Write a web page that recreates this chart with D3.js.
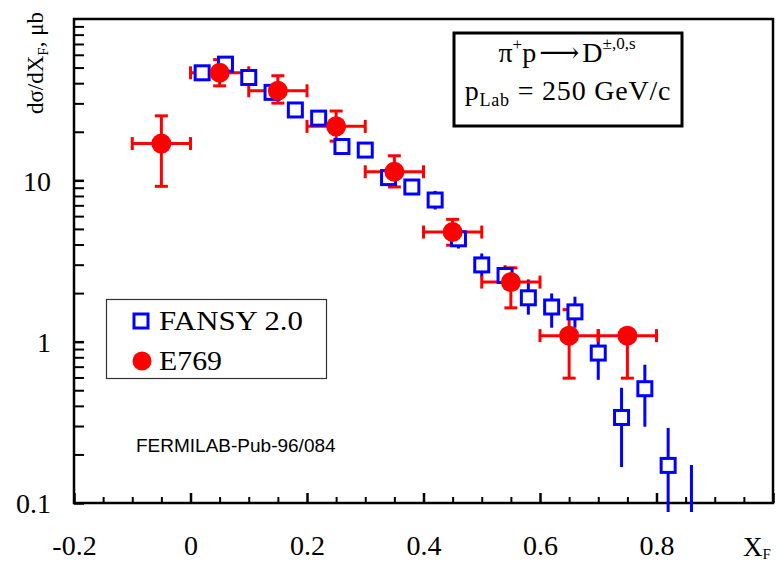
<!DOCTYPE html>
<html>
<head>
<meta charset="utf-8">
<script src="https://cdn.jsdelivr.net/npm/d3@7"></script>
<style>
  html, body { margin: 0; padding: 0; background: #fff; }
  svg { display: block; }
</style>
</head>
<body>
<svg id="chart" width="781" height="561"></svg>
<script>
// ---------------- DATA ----------------
// FANSY 2.0 (blue open squares)
const fansyX  = [0.02, 0.06, 0.10, 0.14, 0.18, 0.22, 0.26, 0.30, 0.34, 0.38, 0.42, 0.46, 0.50, 0.54, 0.58, 0.62, 0.66, 0.70, 0.74, 0.78, 0.82, 0.86];
const fansyY  = [46.4, 52.5, 43.4, 35.1, 27.3, 24.3, 16.2, 15.4, 10.4, 9.09, 7.55, 4.34, 2.99, 2.57, 1.87, 1.64, 1.53, 0.85, 0.339, 0.511, 0.171, 0.07];
const fansyLo = [43.5, 49.0, 40.5, 32.8, 25.5, 22.7, 15.1, 14.4, 9.7, 8.4, 6.6, 3.78, 2.5, 2.12, 1.47, 1.22, 1.22, 0.58, 0.167, 0.297, 0.085, 0.04];
const fansyHi = [49.5, 56.0, 46.5, 37.6, 29.2, 26.0, 17.4, 16.5, 11.2, 9.8, 8.6, 5.04, 3.52, 2.97, 2.43, 1.99, 1.90, 1.14, 0.518, 0.72, 0.292, 0.172];

// E769 (red filled circles)
const e769X    = [-0.05, 0.05, 0.15, 0.25, 0.35, 0.45, 0.55, 0.65, 0.75];
const e769Y    = [16.9, 46.4, 35.9, 21.6, 11.3, 4.78, 2.34, 1.09, 1.09];
const e769Lo   = [9.18, 38.5, 30.1, 17.5, 9.1, 3.96, 1.62, 0.594, 0.594];
const e769Hi   = [25.1, 56.0, 44.5, 26.9, 14.2, 5.73, 2.87, 1.58, 1.15];
const e769XErr = [0.05, 0.05, 0.05, 0.05, 0.05, 0.05, 0.05, 0.05, 0.05];

// Axis ticks
const xTickValues = [-0.2, 0, 0.2, 0.4, 0.6, 0.8];
const xTickLabels = ["-0.2", "0", "0.2", "0.4", "0.6", "0.8"];
const yTickValues = [0.1, 1, 10];
const yTickLabels = ["0.1", "1", "10"];

const legendLabels = ["FANSY 2.0", "E769"];
const noteText = "FERMILAB-Pub-96/084";

// ---------------- LAYOUT ----------------
const SERIF = '"Liberation Serif", "Times New Roman", Times, serif';
const SANS = '"Liberation Sans", Arial, Helvetica, sans-serif';
const svg = d3.select("#chart");
const L = 74, R = 773, T = 19, B = 503;
const x = d3.scaleLinear().domain([-0.2, 1.0]).range([L, R]);
const y = d3.scaleLog().domain([0.1, 100]).range([B, T]);

const BLUE = "#0000ff", RED = "#ff0000";

function serif(sel, size) {
  return sel.attr("font-family", SERIF).style("font-family", SERIF).style("font-size", size + "px").attr("fill", "#000");
}

// clip paths
const defs = svg.append("defs");
defs.append("clipPath").attr("id", "clipPlot")
  .append("rect").attr("x", L).attr("y", T).attr("width", R - L).attr("height", B - T);
defs.append("clipPath").attr("id", "clipErr")
  .append("rect").attr("x", L).attr("y", T).attr("width", R - L).attr("height", B - T + 9);

// ---------------- AXES ----------------
const xMinor = d3.range(-0.15, 1.0, 0.05).filter(v => Math.abs(Math.round(v * 5) - v * 5) > 1e-6);
svg.append("g").attr("transform", `translate(0,${B})`)
  .call(d3.axisBottom(x).tickValues(xMinor).tickSizeInner(-6).tickSizeOuter(0).tickFormat(""))
  .call(g => g.select(".domain").remove())
  .call(g => g.selectAll("line").attr("stroke", "#000").attr("stroke-width", 2));

const xMajorAxis = d3.axisBottom(x)
  .tickValues(xTickValues.concat([1.0]))
  .tickSizeInner(-10).tickSizeOuter(0)
  .tickFormat(d => { const i = xTickValues.indexOf(d); return i >= 0 ? xTickLabels[i] : ""; });
svg.append("g").attr("transform", `translate(0,${B})`)
  .call(xMajorAxis)
  .attr("font-family", SERIF)
  .call(g => g.select(".domain").remove())
  .call(g => g.selectAll("line").attr("stroke", "#000").attr("stroke-width", 2.5))
  .call(g => serif(g.selectAll("text").attr("y", 52).attr("dy", 0), 28));

const yMinor = y.ticks().filter(v => yTickValues.indexOf(v) < 0 && v > 0.1 && v < 100);
svg.append("g").attr("transform", `translate(${L},0)`)
  .call(d3.axisLeft(y).tickValues(yMinor).tickSizeInner(-10).tickSizeOuter(0).tickFormat(""))
  .call(g => g.select(".domain").remove())
  .call(g => g.selectAll("line").attr("stroke", "#000").attr("stroke-width", 2));

svg.append("g").attr("transform", `translate(${L},0)`)
  .call(d3.axisLeft(y).tickValues(yTickValues).tickSizeInner(-10).tickSizeOuter(0)
      .tickFormat(d => yTickLabels[yTickValues.indexOf(d)]))
  .attr("font-family", SERIF)
  .call(g => g.select(".domain").remove())
  .call(g => g.selectAll("line").attr("stroke", "#000").attr("stroke-width", 2.5))
  .call(g => serif(g.selectAll("text").attr("x", -23).attr("dy", "0.35em"), 28));

// frame
svg.append("rect")
  .attr("x", L).attr("y", T).attr("width", R - L).attr("height", B - T)
  .attr("fill", "none").attr("stroke", "#000").attr("stroke-width", 2.5);

// axis titles
const yt = serif(svg.append("text"), 23)
  .attr("transform", `translate(43,63) rotate(-90)`)
  .attr("text-anchor", "middle");
yt.append("tspan").text("dσ/dX");
yt.append("tspan").attr("dy", 5).style("font-size", "15px").text("F");
yt.append("tspan").attr("dy", -5).text(", μb");

const xt = serif(svg.append("text"), 27).attr("x", 743).attr("y", 556);
xt.append("tspan").text("X");
xt.append("tspan").attr("dy", 3).style("font-size", "15px").text("F");

// ---------------- DATA MARKS ----------------
const fansy = fansyX.map((v, i) => ({ x: v, y: fansyY[i], lo: fansyLo[i], hi: fansyHi[i] }));
const e769 = e769X.map((v, i) => ({ x: v, y: e769Y[i], lo: e769Lo[i], hi: e769Hi[i], xe: e769XErr[i] }));

const errG = svg.append("g").attr("clip-path", "url(#clipErr)");

errG.append("g").selectAll("line").data(fansy).join("line")
  .attr("x1", d => x(d.x)).attr("x2", d => x(d.x))
  .attr("y1", d => y(d.lo)).attr("y2", d => y(d.hi))
  .attr("stroke", BLUE).attr("stroke-width", 3);

const CAP = 6.5;
const rg = errG.append("g").attr("stroke", RED).attr("stroke-width", 3);
rg.selectAll("line.h").data(e769).join("line").attr("class", "h")
  .attr("x1", d => x(d.x - d.xe)).attr("x2", d => x(d.x + d.xe))
  .attr("y1", d => y(d.y)).attr("y2", d => y(d.y));
rg.selectAll("line.v").data(e769).join("line").attr("class", "v")
  .attr("x1", d => x(d.x)).attr("x2", d => x(d.x))
  .attr("y1", d => y(d.lo)).attr("y2", d => y(d.hi));
rg.selectAll("line.cl").data(e769).join("line").attr("class", "cl")
  .attr("x1", d => x(d.x - d.xe)).attr("x2", d => x(d.x - d.xe))
  .attr("y1", d => y(d.y) - CAP).attr("y2", d => y(d.y) + CAP);
rg.selectAll("line.cr").data(e769).join("line").attr("class", "cr")
  .attr("x1", d => x(d.x + d.xe)).attr("x2", d => x(d.x + d.xe))
  .attr("y1", d => y(d.y) - CAP).attr("y2", d => y(d.y) + CAP);
rg.selectAll("line.ct").data(e769).join("line").attr("class", "ct")
  .attr("x1", d => x(d.x) - CAP).attr("x2", d => x(d.x) + CAP)
  .attr("y1", d => y(d.hi)).attr("y2", d => y(d.hi));
rg.selectAll("line.cb").data(e769).join("line").attr("class", "cb")
  .attr("x1", d => x(d.x) - CAP).attr("x2", d => x(d.x) + CAP)
  .attr("y1", d => y(d.lo)).attr("y2", d => y(d.lo));

const markG = svg.append("g").attr("clip-path", "url(#clipPlot)");
const SQ = 14;
markG.append("g").selectAll("rect").data(fansy.filter(d => d.y >= 0.1)).join("rect")
  .attr("x", d => x(d.x) - SQ / 2).attr("y", d => y(d.y) - SQ / 2)
  .attr("width", SQ).attr("height", SQ)
  .attr("fill", "#fff").attr("stroke", BLUE).attr("stroke-width", 3);

markG.append("g").selectAll("circle").data(e769).join("circle")
  .attr("cx", d => x(d.x)).attr("cy", d => y(d.y)).attr("r", 10)
  .attr("fill", RED);

// ---------------- LEGEND ----------------
svg.append("rect").attr("x", 106.5).attr("y", 299.5).attr("width", 220).attr("height", 79)
  .attr("fill", "none").attr("stroke", "#333").attr("stroke-width", 1.2);
svg.append("rect").attr("x", 134).attr("y", 314).attr("width", 14).attr("height", 14)
  .attr("fill", "#fff").attr("stroke", BLUE).attr("stroke-width", 3);
svg.append("circle").attr("cx", 142).attr("cy", 361).attr("r", 9.5).attr("fill", RED);
serif(svg.append("text"), 28).attr("x", 159).attr("y", 330)
  .attr("textLength", 144).attr("lengthAdjust", "spacingAndGlyphs").text(legendLabels[0]);
serif(svg.append("text"), 28).attr("x", 159).attr("y", 370)
  .attr("textLength", 63).attr("lengthAdjust", "spacingAndGlyphs").text(legendLabels[1]);

// note
svg.append("text").attr("x", 136).attr("y", 452)
  .attr("font-family", SANS).style("font-family", SANS).style("font-size", "19px").attr("fill", "#000")
  .text(noteText);

// ---------------- TITLE BOX ----------------
svg.append("rect").attr("x", 454).attr("y", 33).attr("width", 228).attr("height", 93)
  .attr("fill", "#fff").attr("stroke", "#000").attr("stroke-width", 3);
const t1 = serif(svg.append("text"), 28).attr("x", 567).attr("y", 62).attr("text-anchor", "middle");
t1.append("tspan").text("π");
t1.append("tspan").attr("dy", -12).style("font-size", "17px").text("+");
t1.append("tspan").attr("dy", 12).text("p");
t1.append("tspan").attr("dx", 3).attr("font-family", '"DejaVu Serif", serif').style("font-family", '"DejaVu Serif", serif').text("⟶");
t1.append("tspan").attr("dx", 3).text("D");
t1.append("tspan").attr("dy", -13).style("font-size", "17px").text("±,0,s");
const t2 = serif(svg.append("text"), 28).attr("x", 568).attr("y", 100).attr("text-anchor", "middle")
  .style("letter-spacing", "0.8px");
t2.append("tspan").text("p");
t2.append("tspan").attr("dy", 6).style("font-size", "18px").text("Lab");
t2.append("tspan").attr("dy", -6).text(" = 250 GeV/c");
</script>
</body>
</html>
